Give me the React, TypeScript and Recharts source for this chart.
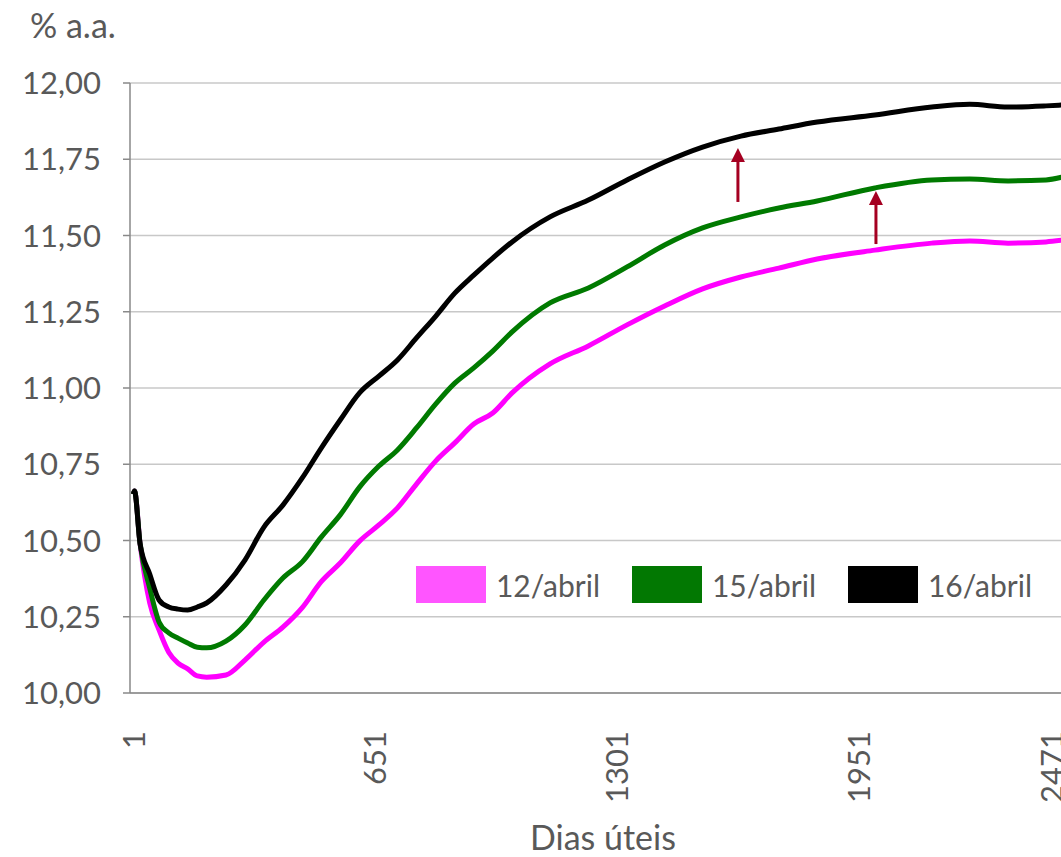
import React from "react";
import {
  LineChart,
  Line,
  XAxis,
  YAxis,
  CartesianGrid,
  Legend,
  ReferenceLine,
} from "recharts";

// dias úteis (eixo x) e taxas (% a.a.)
const days = [
  1, 4, 19, 45, 70, 96, 121, 147, 173, 198, 250, 301, 352, 403, 455, 506, 557,
  609, 661, 711, 762, 814, 865, 916, 967, 1019, 1121, 1224, 1328, 1429, 1531,
  1634, 1736, 1839, 1994, 2147, 2249, 2352, 2454, 2500,
];

const rate12 = [
  10.652, 10.662, 10.49, 10.295, 10.207, 10.134, 10.098, 10.079, 10.056,
  10.052, 10.059, 10.108, 10.167, 10.216, 10.28, 10.365, 10.426, 10.498,
  10.551, 10.607, 10.685, 10.761, 10.82, 10.882, 10.918, 10.984, 11.079,
  11.138, 11.207, 11.269, 11.325, 11.364, 11.393, 11.423, 11.452, 11.475,
  11.482, 11.475, 11.479, 11.485,
];

const rate15 = [
  10.652, 10.662, 10.49, 10.344, 10.233, 10.197, 10.18, 10.164, 10.15, 10.148,
  10.17, 10.223, 10.305, 10.377, 10.43, 10.511, 10.584, 10.675, 10.744,
  10.797, 10.869, 10.948, 11.016, 11.066, 11.121, 11.184, 11.279, 11.328,
  11.397, 11.469, 11.525, 11.561, 11.59, 11.613, 11.656, 11.682, 11.685,
  11.679, 11.682, 11.692,
];

const rate16 = [
  10.652, 10.662, 10.49, 10.39, 10.305, 10.282, 10.275, 10.272, 10.282,
  10.295, 10.354, 10.436, 10.544, 10.616, 10.705, 10.803, 10.895, 10.984,
  11.039, 11.092, 11.164, 11.236, 11.311, 11.37, 11.426, 11.479, 11.561,
  11.616, 11.682, 11.741, 11.79, 11.826, 11.849, 11.872, 11.895, 11.921,
  11.93, 11.921, 11.925, 11.928,
];

const seriesNames = ["12/abril", "15/abril", "16/abril"];
const lineColors = ["#ff00ff", "#007a00", "#000000"];
const swatchColors = ["#ff55ff", "#027802", "#000000"];

const xTicks = [1, 651, 1301, 1951, 2471];
const yTicks = [10, 10.25, 10.5, 10.75, 11, 11.25, 11.5, 11.75, 12];

// setas (dia, taxa inicial, taxa final)
const arrowDays = [1626, 1997];
const arrowFrom = [11.61, 11.472];
const arrowTo = [11.787, 11.646];

const FONT = "Lato, 'Open Sans', sans-serif";
const TEXT = "#595959";

const data = days.map((d, i) => ({
  dia: d,
  a12: rate12[i],
  a15: rate15[i],
  a16: rate16[i],
}));

const keys = ["a12", "a15", "a16"];

function fmt(v: number) {
  return v.toFixed(2).replace(".", ",");
}

function XTick(props: any) {
  const { x, y, payload } = props;
  return (
    <g transform={`translate(${x},${y})`}>
      <text
        transform="rotate(-90)"
        x={-30}
        y={0}
        dy="0.36em"
        textAnchor="end"
        fill={TEXT}
        fontSize={31}
        fontFamily={FONT}
      >
        {payload.value}
      </text>
    </g>
  );
}

function renderLegend() {
  return (
    <div style={{ display: "flex", fontFamily: FONT }}>
      {seriesNames.map((name, i) => (
        <div key={name} style={{ display: "flex", alignItems: "center", width: 216 }}>
          <div style={{ width: 70, height: 37, background: swatchColors[i] }} />
          <div
            style={{
              width: 124,
              textAlign: "center",
              fontSize: 30,
              color: TEXT,
            }}
          >
            {name}
          </div>
        </div>
      ))}
    </div>
  );
}

function arrowShape(p: any) {
  const { x1, y1, x2, y2 } = p;
  return (
    <g>
      <line x1={x1} y1={y1} x2={x2} y2={y2 + 12} stroke="#a50021" strokeWidth={3} />
      <polygon
        points={`${x2},${y2} ${x2 - 7},${y2 + 14} ${x2 + 7},${y2 + 14}`}
        fill="#a50021"
      />
    </g>
  );
}

export default function App() {
  return (
    <div
      style={{
        position: "absolute",
        top: 0,
        left: 0,
        width: 1061,
        height: 857,
        overflow: "hidden",
        background: "#fff",
      }}
    >
      <LineChart
        width={1090}
        height={857}
        data={data}
        margin={{ top: 83, right: 15, left: 0, bottom: 0 }}
      >
        <CartesianGrid vertical={false} stroke="#c8c8c8" strokeWidth={1.5} />
        <XAxis
          dataKey="dia"
          type="number"
          domain={[-8, 2532]}
          allowDataOverflow
          ticks={xTicks}
          interval={0}
          height={164}
          tickLine={false}
          axisLine={{ stroke: "#898989", strokeWidth: 1.5 }}
          tick={<XTick />}
          label={{
            content: () => (
              <text
                x={603}
                y={850}
                textAnchor="middle"
                fill={TEXT}
                fontSize={34}
                fontFamily={FONT}
              >
                Dias úteis
              </text>
            ),
          }}
        />
        <YAxis
          type="number"
          domain={[10, 12]}
          ticks={yTicks}
          interval={0}
          width={130}
          tickSize={7}
          tickMargin={22}
          tickFormatter={fmt}
          axisLine={{ stroke: "#898989", strokeWidth: 1.5 }}
          tickLine={{ stroke: "#898989", strokeWidth: 1.5 }}
          tick={{ fill: TEXT, fontSize: 31, fontFamily: FONT }}
          label={{
            content: () => (
              <text x={30} y={38} fill={TEXT} fontSize={34} fontFamily={FONT}>
                % a.a.
              </text>
            ),
          }}
        />
        <Legend
          layout="horizontal"
          verticalAlign="middle"
          align="center"
          content={renderLegend}
          wrapperStyle={{ left: 416, top: 566, width: 660 }}
        />
        {keys.map((k, i) => (
          <Line
            key={k}
            dataKey={k}
            name={seriesNames[i]}
            type="monotone"
            stroke={lineColors[i]}
            strokeWidth={5}
            dot={false}
            activeDot={false}
            isAnimationActive={false}
          />
        ))}
        {arrowDays.map((d, i) => (
          <ReferenceLine
            key={d}
            segment={[
              { x: d, y: arrowFrom[i] },
              { x: d, y: arrowTo[i] },
            ]}
            shape={arrowShape}
          />
        ))}
      </LineChart>
    </div>
  );
}
